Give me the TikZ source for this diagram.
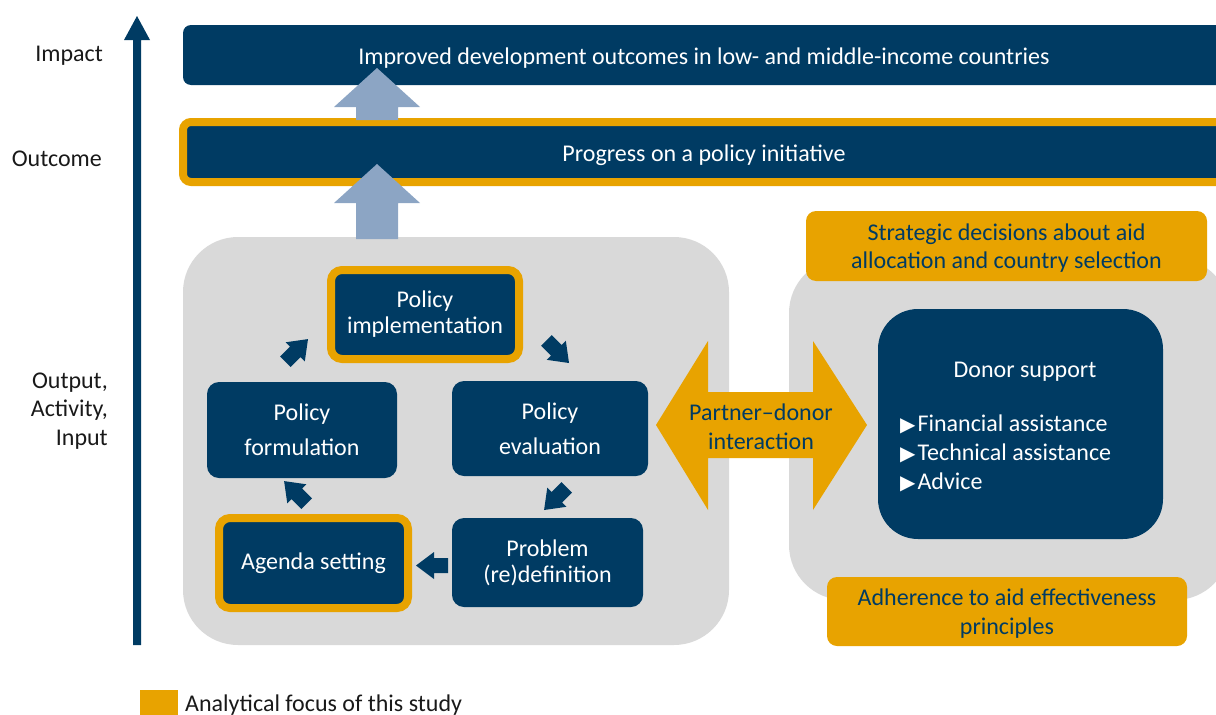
\documentclass[tikz,border=0pt]{standalone}
\usepackage{fontspec}
\setmainfont{Carlito}
\newfontfamily\symfont{DejaVu Sans}
\definecolor{navy}{HTML}{003B63}
\definecolor{gold}{HTML}{E8A300}
\definecolor{panelgrey}{HTML}{D9D9D9}
\definecolor{lightblue}{HTML}{8CA5C4}
\newcommand\donorbullet{\raisebox{0pt}{\symfont\fontsize{20}{20}\selectfont ▶}\kern2pt}
\begin{document}
\begin{tikzpicture}[x=1pt,y=-1pt,
  txt/.style={font=\fontsize{24}{26}\selectfont},
  bar/.style={fill=navy, rounded corners=8pt, minimum width=1042pt, minimum height=60pt, inner sep=0pt},
  stage/.style={fill=navy, rounded corners=12pt, inner sep=0pt, text=white, align=center, txt},
  focus/.style={draw=gold, line width=8pt, rounded corners=11pt},
  goldbox/.style={fill=gold, rounded corners=10pt, text=navy, align=center, inner sep=0pt, font=\fontsize{24}{28.5}\selectfont},
  panel/.style={fill=panelgrey, rounded corners=55pt, inner sep=0pt},
  lbl/.style={align=right, anchor=east, inner sep=0pt, text=black!90, font=\fontsize{24}{28.5}\selectfont},
  liftarrow/.style={fill=lightblue},
  blk/.pic={\fill[navy] (-16,-7.5) -- (-2,-7.5) -- (-2,-13.5) -- (16,0) -- (-2,13.5) -- (-2,7.5) -- (-16,7.5) -- cycle;},
]
\useasboundingbox (0,0) rectangle (1216,715);

% vertical axis arrow
\fill[navy] (133,645) -- (133,40) -- (124,40) -- (137,16) -- (150,40) -- (141,40) -- (141,645) -- cycle;

% left labels
\node[lbl] (limpact) at (103,56) {Impact};
\node[lbl] (loutcome) at (102,159) {Outcome};
\node[lbl] (loutput) at (108,411) {Output,\\Activity,\\Input};

% grey panels
\node[panel, minimum width=546pt, minimum height=408pt] (partner) at (456,441) {};
\node[panel, minimum width=441pt, minimum height=342pt] (donorpanel) at (1009.5,429) {};

% top bars
\node[bar] (impact) at (704,55) {};
\node[bar, draw=gold, line width=8pt] (outcome) at (704,152) {};

% lift arrows
\fill[liftarrow] (377,68) -- (420,107) -- (398,107) -- (398,120) -- (356,120) -- (356,107) -- (334,107) -- cycle;
\fill[liftarrow] (377,164) -- (420,203) -- (398,203) -- (398,239) -- (356,239) -- (356,203) -- (334,203) -- cycle;

\node[txt, text=white, yshift=-3pt] at (impact.center) {Improved development outcomes in low- and middle-income countries};
\node[txt, text=white, yshift=-3pt] at (outcome.center) {Progress on a policy initiative};

% policy cycle
\node[stage, focus, minimum width=188pt, minimum height=89pt] (impl) at (425,314.5) {Policy\\implementation};
\node[stage, minimum width=190pt, minimum height=96pt] (form) at (302,430) {Policy\\[9pt]formulation};
\node[stage, minimum width=196pt, minimum height=95pt] (eval) at (550,428.5) {Policy\\[9pt]evaluation};
\node[stage, minimum width=191pt, minimum height=89pt] (prob) at (547.5,562.5) {Problem\\(re)definition};
\node[stage, focus, minimum width=189pt, minimum height=90pt] (agenda) at (313.5,563) {Agenda setting};

\pic[rotate=45] at (296.7,350.4) {blk};
\pic[rotate=-45] at (557.7,351.7) {blk};
\pic[rotate=-135] at (555.4,498.7) {blk};
\pic[rotate=180] at (432,565.5) {blk};
\pic[rotate=135] at (295.4,492.4) {blk};

% partner-donor interaction
\fill[gold] (656,425) -- (708,341) -- (708,392) -- (813,392) -- (813,341) -- (867,425) -- (813,510) -- (813,458) -- (708,458) -- (708,510) -- cycle;
\node[text=navy, align=center, inner sep=0pt, font=\fontsize{24}{29}\selectfont] (pd) at (761,427) {Partner–donor\\interaction};

% donor side
\node[goldbox, minimum width=401pt, minimum height=70pt] (strat) at (1006.5,246) {};
\node[text=navy, align=center, inner sep=0pt, font=\fontsize{24}{28.5}\selectfont, yshift=-2pt] at (strat.center) {Strategic decisions about aid\\allocation and country selection};
\node[goldbox, minimum width=360pt, minimum height=69pt] (adh) at (1007,611.5) {};
\node[text=navy, align=center, inner sep=0pt, font=\fontsize{24}{28.5}\selectfont, yshift=-2pt] at (adh.center) {Adherence to aid effectiveness\\principles};
\node[fill=navy, rounded corners=40pt, minimum width=285pt, minimum height=230pt, inner sep=0pt] (donor) at (1020.5,424) {};
\node[txt, text=white, inner sep=0pt] (donortitle) at (1025,372) {Donor support};
\node[text=white, align=left, anchor=west, inner sep=0pt, font=\fontsize{24}{29}\selectfont] (donorlist) at (900,453) {\donorbullet Financial assistance\\\donorbullet Technical assistance\\\donorbullet Advice};

% legend
\fill[gold] (140,690) rectangle (178,718);
\node[anchor=base west, inner sep=0pt, text=black!90, txt] (legend) at (185,711) {Analytical focus of this study};
\end{tikzpicture}
\end{document}
